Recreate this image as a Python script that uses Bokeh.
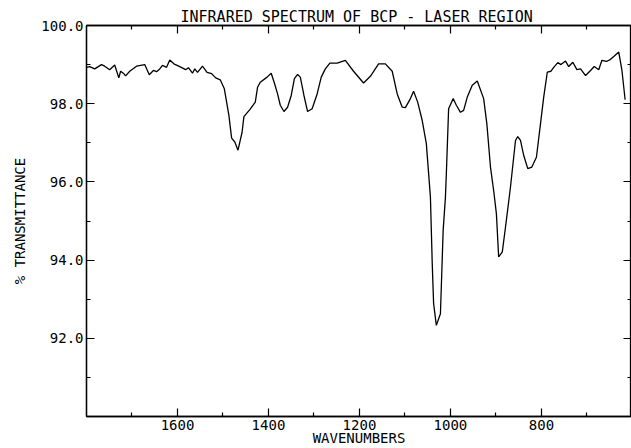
from bokeh.plotting import figure
from bokeh.models import Range1d, LinearAxis, FixedTicker, NumeralTickFormatter, CustomLabelingPolicy
from bokeh.embed import file_html
from bokeh.resources import INLINE

wavenumber = [1800, 1793, 1782, 1767, 1760, 1749, 1738, 1729, 1725, 1719, 1714, 1705, 1690, 1672,
              1662, 1653, 1646, 1639, 1633, 1624, 1617, 1608, 1595, 1582, 1576, 1567, 1562, 1556,
              1545, 1535, 1525, 1516, 1506, 1497, 1487, 1481, 1474, 1467, 1458, 1454, 1441, 1429,
              1424, 1418, 1403, 1394, 1387, 1380, 1374, 1366, 1358, 1350, 1343, 1336, 1330, 1322,
              1314, 1304, 1293, 1284, 1275, 1265, 1249, 1231, 1213, 1191, 1176, 1158, 1143, 1128,
              1117, 1106, 1099, 1088, 1081, 1072, 1062, 1053, 1044, 1040, 1037, 1031, 1022, 1016,
              1011, 1009, 1004, 994, 987, 978, 971, 963, 952, 941, 927, 920, 912, 905, 899, 894,
              886, 879, 868, 857, 852, 846, 839, 830, 821, 811, 802, 795, 787, 779, 773, 764, 757,
              747, 740, 731, 722, 714, 703, 692, 684, 674, 667, 657, 650, 641, 630, 623, 616]
transmittance = [98.93, 98.95, 98.89, 99.00, 98.96, 98.87, 98.99, 98.66, 98.83, 98.78, 98.71, 98.83,
                 98.96, 99.00, 98.74, 98.85, 98.82, 98.89, 98.98, 98.93, 99.12, 99.02, 98.95, 98.87,
                 98.92, 98.78, 98.89, 98.80, 98.96, 98.80, 98.77, 98.66, 98.61, 98.38, 97.70, 97.12,
                 97.02, 96.81, 97.27, 97.67, 97.85, 98.04, 98.42, 98.55, 98.68, 98.78, 98.53, 98.25,
                 97.96, 97.80, 97.91, 98.21, 98.64, 98.75, 98.68, 98.21, 97.80, 97.87, 98.25, 98.68,
                 98.89, 99.04, 99.04, 99.11, 98.83, 98.53, 98.70, 99.02, 99.02, 98.83, 98.25, 97.91,
                 97.90, 98.13, 98.32, 98.04, 97.57, 96.98, 95.61, 93.91, 92.89, 92.33, 92.63, 94.76,
                 95.61, 96.21, 97.87, 98.13, 97.96, 97.78, 97.83, 98.17, 98.47, 98.58, 98.13, 97.49,
                 96.38, 95.78, 95.19, 94.08, 94.21, 94.84, 95.87, 97.06, 97.16, 97.06, 96.68, 96.34,
                 96.38, 96.63, 97.49, 98.17, 98.81, 98.83, 98.93, 99.05, 99.00, 99.09, 98.95, 99.06,
                 98.87, 98.89, 98.72, 98.85, 98.95, 98.87, 99.11, 99.08, 99.12, 99.21, 99.32, 98.85,
                 98.10]

x_major_ticks = [1600, 1400, 1200, 1000, 800]
x_minor_ticks = [1700, 1500, 1300, 1100, 900, 700]
y_major_ticks = [92, 94, 96, 98, 100]
y_minor_ticks = [91, 93, 95, 97, 99]

title_text = "INFRARED SPECTRUM OF BCP  -  LASER REGION"
x_label = "WAVENUMBERS"
y_label = "% TRANSMITTANCE"

FONT = "DejaVu Sans Mono"

p = figure(width=631, height=448, output_backend="svg", toolbar_location=None,
           x_range=Range1d(1800, 602), y_range=Range1d(90, 100),
           x_axis_location=None, y_axis_location=None,
           min_border_left=86, min_border_right=0, min_border_top=25, min_border_bottom=0)
p.title.text = title_text
p.title.align = "left"
p.title.offset = 94
p.title.text_font = FONT
p.title.text_font_size = "15px"
p.title.text_font_style = "normal"
p.title.text_color = "black"
p.title.standoff = 0
p.xgrid.visible = False
p.ygrid.visible = False
p.outline_line_color = "black"
p.outline_line_width = 1.3
p.background_fill_color = "white"
p.border_fill_color = "white"


def style(ax, labels=True):
    ax.axis_line_color = "black"
    ax.axis_line_width = 1.3
    ax.major_tick_in = 8
    ax.major_tick_out = 0
    ax.minor_tick_in = 4
    ax.minor_tick_out = 0
    ax.major_tick_line_color = "black"
    ax.minor_tick_line_color = "black"
    ax.major_tick_line_width = 1.2
    ax.minor_tick_line_width = 1.2
    ax.major_label_text_font = FONT
    ax.major_label_text_color = "black"
    ax.axis_label_text_font = FONT
    ax.axis_label_text_font_style = "normal"
    ax.axis_label_text_color = "black"
    if labels:
        ax.major_label_text_font_size = "14px"
        ax.axis_label_text_font_size = "14px"
    else:
        ax.major_label_text_font_size = "0px"
        ax.major_label_standoff = 0
        ax.major_label_policy = CustomLabelingPolicy(code="return []")


xt = FixedTicker(ticks=x_major_ticks, minor_ticks=x_minor_ticks)
yt = FixedTicker(ticks=y_major_ticks, minor_ticks=y_minor_ticks)

bottom = LinearAxis(ticker=xt, axis_label=x_label)
style(bottom)
bottom.major_label_standoff = 3
bottom.axis_label_standoff = -3
p.add_layout(bottom, "below")

left = LinearAxis(ticker=yt, axis_label=y_label, formatter=NumeralTickFormatter(format="0.0"))
style(left)
left.major_label_standoff = 3
left.axis_label_standoff = 10
p.add_layout(left, "left")

top = LinearAxis(ticker=xt)
style(top, labels=False)
p.add_layout(top, "above")

right = LinearAxis(ticker=yt)
style(right, labels=False)
p.add_layout(right, "right")

p.line(wavenumber, transmittance, line_color="black", line_width=1.3)

open("out.html", "w").write(file_html(p, INLINE))
